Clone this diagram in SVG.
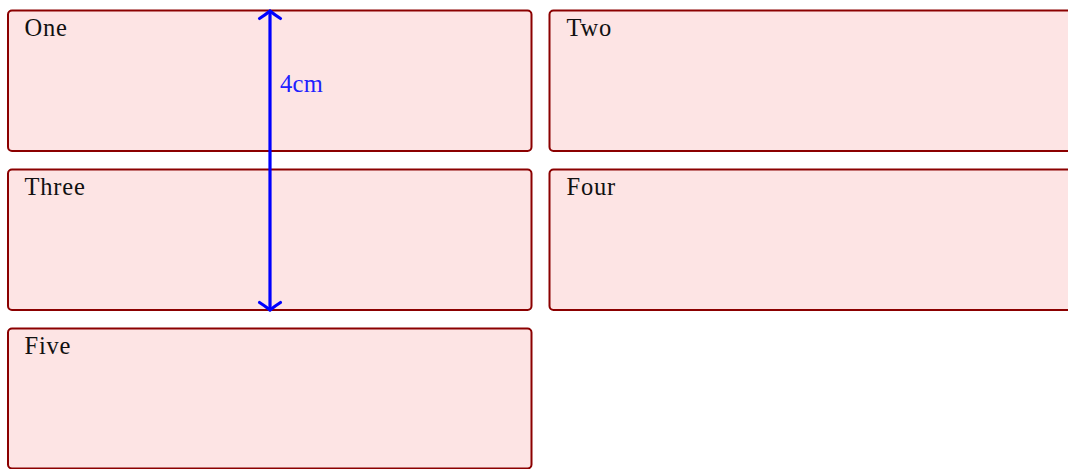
<svg xmlns="http://www.w3.org/2000/svg" width="1068" height="469" viewBox="0 0 1068 469">
<style>
.box{fill:#fde4e4;stroke:#8b0000;stroke-width:2}
.lbl{font-family:"Liberation Serif","Times New Roman",serif;font-size:24.5px;letter-spacing:0.8px;fill:#111}
.dim{fill:none;stroke:#0000ff;stroke-width:3.2;stroke-linecap:round;stroke-linejoin:round}
.dimt{font-family:"Liberation Serif","Times New Roman",serif;font-size:24.5px;letter-spacing:0.3px;fill:#2020ff}
</style>
<rect width="1068" height="469" fill="#ffffff"/>
<g id="one"><rect class="box" x="8" y="10.5" width="523.5" height="140.5" rx="4"/><text class="lbl" x="24.5" y="36">One</text></g>
<g id="two"><rect class="box" x="549.5" y="10.5" width="523.5" height="140.5" rx="4"/><text class="lbl" x="566.5" y="36">Two</text></g>
<g id="three"><rect class="box" x="8" y="169.5" width="523.5" height="140.5" rx="4"/><text class="lbl" x="24.5" y="195">Three</text></g>
<g id="four"><rect class="box" x="549.5" y="169.5" width="523.5" height="140.5" rx="4"/><text class="lbl" x="566.5" y="195">Four</text></g>
<g id="five"><rect class="box" x="8" y="328.5" width="523.5" height="140" rx="4"/><text class="lbl" x="24.5" y="354">Five</text></g>
<g id="connectors">
<line class="dim" x1="270" y1="11" x2="270" y2="310"/>
<path class="dim" d="M259.5 18.5 C263.5 16 267.5 13 270 11 C272.5 13 276.5 16 280.5 18.5"/>
<path class="dim" d="M259.5 302.5 C263.5 305 267.5 308 270 310 C272.5 308 276.5 305 280.5 302.5"/>
<text class="dimt" x="280" y="92">4cm</text>
</g>
</svg>
